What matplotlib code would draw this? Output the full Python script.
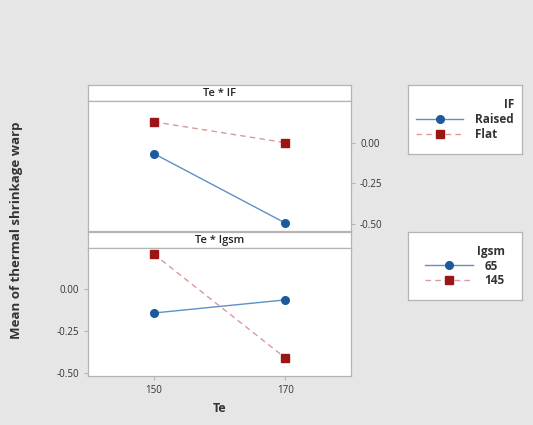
import matplotlib.pyplot as plt
from matplotlib.lines import Line2D

plt.rcParams["font.family"] = ["Open Sans", "DejaVu Sans"]

TE = [150, 170]
IF_LEVELS = ["Raised", "Flat"]
IF_MEANS = {"Raised": [-0.067, -0.494], "Flat": [0.128, 0.0]}
IGSM_LEVELS = ["65", "145"]
IGSM_MEANS = {"65": [-0.143, -0.065], "145": [0.208, -0.41]}
Y_TICKS = [0.0, -0.25, -0.50]
Y_TICK_LABELS = ["0.00", "-0.25", "-0.50"]

BG = "#e6e6e6"
EDGE = "#b4b4b4"
BLUE = "#1c5a9c"
RED = "#9b1515"
STYLES = [
    dict(color="#5f8fc4", ls="-", marker="o", mfc=BLUE, mec=BLUE),
    dict(color="#d99a9a", ls=(0, (4, 3)), marker="s", mfc=RED, mec=RED),
]

fig = plt.figure(figsize=(5.33, 4.25), dpi=100, facecolor=BG)
W, H = 533, 425


def px_axes(x0, y0, x1, y1):
    return fig.add_axes([x0 / W, 1 - y1 / H, (x1 - x0) / W, (y1 - y0) / H])


def frame(ax):
    for s in ax.spines.values():
        s.set_color(EDGE)
        s.set_linewidth(0.9)


def strip(y0, y1, title):
    ax = px_axes(88, y0, 351, y1)
    ax.set_xticks([])
    ax.set_yticks([])
    ax.set_facecolor("white")
    frame(ax)
    ax.text(0.5, 0.5, title, ha="center", va="center", fontsize=8,
            fontweight="semibold", color="#222222")


def panel(y0, y1, means, levels, ylim, side):
    ax = px_axes(88, y0, 351, y1)
    ax.set_facecolor("white")
    for lvl, st in zip(levels, STYLES):
        ax.plot(TE, means[lvl], lw=1.0, ms=5.5, **st)
    ax.set_xlim(140, 180)
    ax.set_ylim(*ylim)
    ax.set_yticks(Y_TICKS)
    ax.set_yticklabels(Y_TICK_LABELS)
    ax.yaxis.set_ticks_position(side)
    ax.tick_params(labelsize=7, colors="#333333", length=3, color=EDGE)
    frame(ax)
    return ax


def legend_box(y0, y1, title, labels):
    ax = px_axes(408, y0, 522, y1)
    ax.set_xticks([])
    ax.set_yticks([])
    ax.set_facecolor("white")
    frame(ax)
    handles = [Line2D([], [], lw=1.0, ms=5.5, **st) for st in STYLES]
    leg = ax.legend(handles, labels, title=title, loc="center",
                    frameon=False, fontsize=8.5, title_fontsize=8.5,
                    handlelength=4.0, handletextpad=1.0, labelspacing=0.15,
                    alignment="right", borderaxespad=0.2)
    for t in leg.get_texts():
        t.set_fontweight("bold")
        t.set_color("#333333")
    leg.get_title().set_fontweight("bold")
    leg.get_title().set_color("#333333")


strip(85, 101, "Te * IF")
top = panel(101, 231, IF_MEANS, IF_LEVELS, (-0.543, 0.256), "right")
top.set_xticks([])

strip(232, 248, "Te * Igsm")
bot = panel(248, 376, IGSM_MEANS, IGSM_LEVELS, (-0.518, 0.244), "left")
bot.set_xticks(TE)
bot.set_xlabel("Te", fontsize=9, fontweight="bold", color="#333333", labelpad=4)

fig.text(17 / W, 1 - 230 / H, "Mean of thermal shrinkage warp", rotation=90,
         ha="center", va="center", fontsize=9.5, fontweight="bold", color="#333333")

legend_box(85, 154, "IF", IF_LEVELS)
legend_box(232, 300, "Igsm", IGSM_LEVELS)

fig.savefig("out.png", dpi=100, facecolor=BG)
